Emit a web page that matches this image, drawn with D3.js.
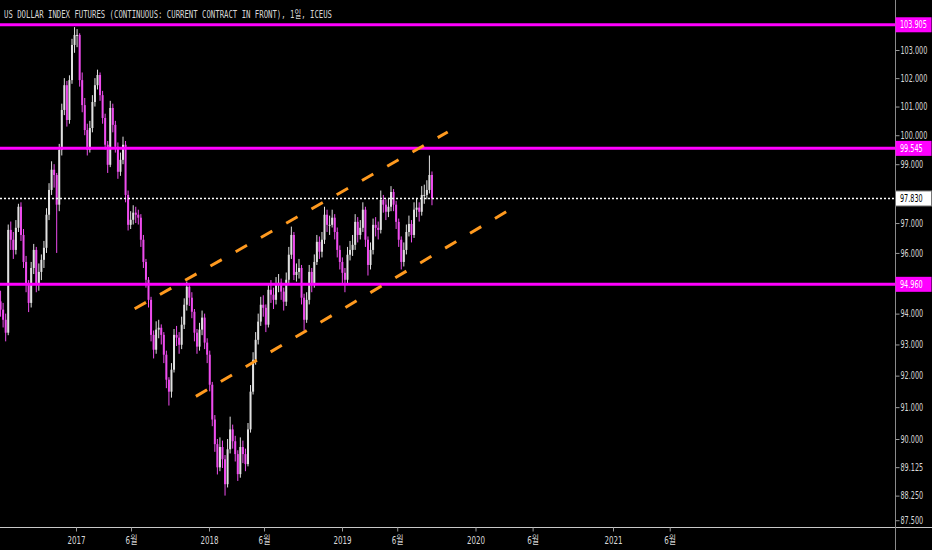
<!DOCTYPE html>
<html>
<head>
<meta charset="utf-8">
<script src="https://cdn.jsdelivr.net/npm/d3@7"></script>
<style>
  html, body { margin: 0; padding: 0; background: #000; }
  svg { display: block; }
  .axis text { font-family: "DejaVu Sans Condensed", "Noto Sans CJK KR", sans-serif; font-size: 10px; fill: #d8d8d8; }
  .x-axis text { font-size: 11px; }
  .axis line { stroke: #9a9a9a; }
</style>
</head>
<body>
<svg id="chart"></svg>
<script>
// Weekly bars, first week starts Monday 2016-06-06
const firstWeek = new Date(2016, 5, 6);
const firstOpen = 94.40;

const closes = [
  94.13, 93.80, 93.38, 96.77, 96.44, 96.10, 96.84, 97.55, 96.60, 95.70,
  94.94, 94.35, 95.50, 96.10, 94.94, 95.37, 95.77, 96.17, 97.28, 98.12,
  98.81, 98.63, 97.62, 99.49, 100.88, 101.75, 100.53, 101.93, 103.18, 103.54,
  103.54, 101.93, 101.05, 100.18, 99.49, 100.25, 101.16, 101.75, 102.11, 101.40,
  100.60, 99.67, 98.98, 100.95, 100.36, 99.60, 98.74, 99.15, 99.67, 97.95,
  96.94, 97.11, 97.35, 97.28, 97.18, 96.44, 95.70, 95.11, 94.45, 93.31,
  92.83, 93.48, 93.54, 93.31, 92.67, 91.87, 91.49, 92.19, 93.31, 93.22,
  92.99, 93.64, 94.29, 94.88, 94.52, 94.06, 93.38, 92.93, 93.48, 93.87,
  93.06, 92.67, 91.71, 90.61, 89.84, 89.12, 89.75, 89.37, 88.60, 89.68,
  90.30, 89.93, 89.53, 88.91, 89.75, 89.53, 89.22, 90.30, 91.49, 92.51,
  93.15, 93.74, 94.29, 94.19, 93.64, 94.78, 94.62, 94.45, 94.94, 95.01,
  94.72, 94.39, 95.11, 95.94, 96.60, 95.27, 95.37, 95.50, 94.52, 93.80,
  94.45, 95.37, 94.94, 95.70, 96.37, 96.04, 96.44, 97.28, 96.94, 96.94,
  97.18, 96.70, 96.10, 95.70, 95.34, 95.11, 95.94, 96.10, 96.27, 97.04,
  96.60, 96.84, 97.45, 96.44, 95.60, 96.10, 96.94, 96.84, 96.77, 97.78,
  97.62, 97.38, 97.55, 98.05, 97.62, 97.04, 96.44, 95.70, 96.10, 96.70,
  96.97, 96.60, 97.45, 97.52, 97.38, 97.95, 97.95, 98.12, 98.63, 97.83
];

const highs = [
  94.75, 94.35, 94.00, 96.95, 97.05, 96.70, 97.10, 97.65, 97.70, 96.80,
  95.90, 95.10, 95.70, 96.30, 96.20, 95.65, 95.95, 96.40, 97.50, 98.35,
  99.10, 99.00, 98.70, 99.70, 101.10, 102.00, 101.90, 102.10, 103.40, 103.82,
  103.75, 103.60, 102.20, 101.30, 100.40, 100.50, 101.40, 102.00, 102.30, 102.20,
  101.55, 100.75, 99.80, 101.20, 101.10, 100.50, 99.75, 99.40, 99.95, 99.80,
  98.10, 97.40, 97.60, 97.55, 97.45, 97.30, 96.60, 95.80, 95.20, 94.55,
  93.45, 93.75, 93.80, 93.65, 93.40, 92.80, 91.95, 92.40, 93.50, 93.60,
  93.40, 93.90, 94.50, 95.05, 94.95, 94.70, 94.15, 93.50, 93.70, 94.10,
  94.00, 93.20, 92.80, 91.80, 90.75, 90.00, 90.05, 89.95, 89.50, 90.00,
  90.70, 90.45, 90.10, 89.65, 90.05, 89.95, 89.70, 90.50, 91.70, 92.75,
  93.40, 94.00, 94.55, 94.60, 94.30, 95.00, 95.10, 94.85, 95.20, 95.30,
  95.15, 94.85, 95.35, 96.20, 96.88, 96.70, 95.65, 95.80, 95.60, 94.65,
  94.70, 95.60, 95.50, 95.95, 96.60, 96.55, 96.70, 97.55, 97.45, 97.25,
  97.45, 97.30, 96.85, 96.25, 95.85, 95.50, 96.20, 96.40, 96.60, 97.30,
  97.20, 97.10, 97.70, 97.55, 96.55, 96.35, 97.15, 97.20, 97.05, 98.10,
  97.95, 97.80, 97.85, 98.25, 98.15, 97.75, 97.15, 96.55, 96.35, 96.95,
  97.25, 97.10, 97.70, 97.85, 97.70, 98.25, 98.30, 98.45, 99.30, 98.75
];

const lows = [
  93.90, 93.55, 93.10, 93.30, 96.10, 95.80, 95.95, 96.70, 96.40, 95.50,
  94.70, 94.05, 94.20, 95.30, 94.70, 94.75, 95.10, 95.50, 96.00, 97.10,
  97.95, 98.20, 96.00, 97.40, 99.30, 100.70, 100.30, 100.40, 101.80, 102.90,
  103.10, 101.70, 100.80, 100.00, 99.30, 99.40, 100.10, 101.00, 101.60, 101.20,
  100.40, 99.50, 98.70, 98.90, 100.10, 99.40, 98.50, 98.60, 99.00, 97.70,
  96.75, 96.80, 96.95, 97.00, 96.95, 96.20, 95.50, 94.85, 94.20, 93.10,
  92.55, 92.70, 93.20, 93.00, 92.40, 91.60, 91.05, 91.30, 92.10, 92.95,
  92.70, 92.85, 93.50, 94.10, 94.25, 93.85, 93.10, 92.70, 92.80, 93.30,
  92.85, 92.40, 91.50, 90.40, 89.60, 88.90, 89.00, 89.10, 88.25, 88.50,
  89.55, 89.70, 89.30, 88.70, 88.80, 89.25, 89.00, 89.15, 90.20, 91.40,
  92.35, 93.00, 93.60, 93.90, 93.40, 93.55, 94.35, 94.15, 94.30, 94.70,
  94.45, 94.10, 94.25, 95.00, 95.80, 95.10, 95.05, 95.15, 94.30, 93.45,
  93.70, 94.30, 94.70, 94.85, 95.60, 95.80, 95.85, 96.30, 96.70, 96.60,
  96.85, 96.45, 95.85, 95.45, 94.95, 94.70, 95.00, 95.75, 95.90, 96.10,
  96.35, 96.45, 96.70, 96.20, 95.25, 95.45, 95.95, 96.55, 96.45, 96.65,
  97.35, 97.10, 97.20, 97.40, 97.40, 96.80, 96.20, 95.45, 95.55, 95.95,
  96.55, 96.35, 96.50, 97.20, 97.05, 97.25, 97.65, 97.80, 98.00, 97.60
];

// horizontal levels and last price
const levelPrices = [103.905, 99.545, 94.960];
const lastPrice = 97.830;

// channel lines: [date, price] anchors
const channelUpper = [["2017-06-11", 94.16], ["2019-10-17", 100.11]];
const channelLower = [["2017-11-26", 91.34], ["2020-04-01", 97.45]];

// axis ticks
const yTicks = [87.5, 88.25, 89.125, 90, 91, 92, 93, 94, 96, 97, 99, 100, 101, 102, 103];
const xTickDates = ["2017-01-01", "2017-06-01", "2018-01-01", "2018-06-01", "2019-01-01",
  "2019-06-01", "2020-01-01", "2020-06-01", "2021-01-01", "2021-06-01"];

const titleText = "US DOLLAR INDEX FUTURES (CONTINUOUS: CURRENT CONTRACT IN FRONT), 1일, ICEUS";

const W = 932, H = 550;
const axisX = 895, axisY = 527;
const squeeze = 0.72; // condensed look for axis labels
const parse = d3.timeParse("%Y-%m-%d");
const priceFmt = d3.format(".3f");

const bars = closes.map((c, i) => ({
  date: d3.timeDay.offset(d3.timeWeek.offset(firstWeek, i), 2),
  open: i === 0 ? firstOpen : closes[i - 1],
  high: highs[i],
  low: lows[i],
  close: c
}));

const svg = d3.select("#chart").attr("width", W).attr("height", H);

svg.append("rect").attr("width", W).attr("height", H).attr("fill", "#000");

// bar-index style time axis: each year gets its own piece
const x = d3.scaleTime()
  .domain([new Date(2017, 0, 1), new Date(2018, 0, 1), new Date(2019, 0, 1), new Date(2020, 0, 1), new Date(2021, 0, 1)])
  .range([76, 209, 342, 475.5, 613]);

const y = d3.scaleLog()
  .domain([90, 103])
  .range([439, 50]);

svg.append("defs").append("clipPath").attr("id", "plot-clip")
  .append("rect").attr("x", 0).attr("y", 0).attr("width", axisX).attr("height", axisY);

const plot = svg.append("g").attr("clip-path", "url(#plot-clip)");

// candles
const upColor = "#e0e0e0", downColor = "#ee4cee";
const candle = plot.append("g").selectAll("g")
  .data(bars)
  .join("g")
  .attr("stroke", d => d.close >= d.open ? upColor : downColor)
  .attr("fill", d => d.close >= d.open ? upColor : downColor);

candle.append("line")
  .attr("x1", d => x(d.date)).attr("x2", d => x(d.date))
  .attr("y1", d => y(d.high)).attr("y2", d => y(d.low))
  .attr("stroke-width", 1);

candle.append("rect")
  .attr("stroke", "none")
  .attr("x", d => x(d.date) - 1)
  .attr("width", 2)
  .attr("y", d => y(Math.max(d.open, d.close)))
  .attr("height", d => Math.max(1, y(Math.min(d.open, d.close)) - y(Math.max(d.open, d.close))));

// horizontal levels
plot.selectAll(".level")
  .data(levelPrices)
  .join("line")
  .attr("class", "level")
  .attr("x1", 0).attr("x2", axisX)
  .attr("y1", d => y(d)).attr("y2", d => y(d))
  .attr("stroke", "#ff00ff")
  .attr("stroke-width", 3);

// last price dotted line
plot.append("line")
  .attr("x1", 0).attr("x2", axisX)
  .attr("y1", y(lastPrice)).attr("y2", y(lastPrice))
  .attr("stroke", "#ffffff")
  .attr("stroke-width", 1.5)
  .attr("stroke-dasharray", "2 2");

// channel
const channelLine = d3.line()
  .x(d => x(parse(d[0])))
  .y(d => y(d[1]));

plot.selectAll(".channel")
  .data([channelUpper, channelLower])
  .join("path")
  .attr("class", "channel")
  .attr("d", channelLine)
  .attr("fill", "none")
  .attr("stroke", "#ff9a1f")
  .attr("stroke-width", 3)
  .attr("stroke-dasharray", "13 16");

// axes lines
svg.append("line")
  .attr("x1", 0).attr("x2", W)
  .attr("y1", axisY + 0.5).attr("y2", axisY + 0.5)
  .attr("stroke", "#c8c8c8");

svg.append("line")
  .attr("x1", axisX + 0.5).attr("x2", axisX + 0.5)
  .attr("y1", 0).attr("y2", H)
  .attr("stroke", "#8a8a8a");

// y axis
const yAxis = d3.axisRight(y)
  .tickValues(yTicks)
  .tickSize(4)
  .tickPadding(1)
  .tickFormat(priceFmt);

svg.append("g")
  .attr("class", "axis y-axis")
  .attr("transform", `translate(${axisX + 0.5},0)`)
  .call(yAxis)
  .call(g => g.select(".domain").remove())
  .call(g => g.selectAll("text")
    .attr("x", 5 / squeeze)
    .attr("transform", `scale(${squeeze},1)`));

// x axis
const xAxis = d3.axisBottom(x)
  .tickValues(xTickDates.map(parse))
  .tickSize(4)
  .tickPadding(5)
  .tickFormat(d => d.getMonth() === 0 ? d.getFullYear() : "6월");

svg.append("g")
  .attr("class", "axis x-axis")
  .attr("transform", `translate(0,${axisY + 0.5})`)
  .call(xAxis)
  .call(g => g.select(".domain").remove())
  .call(g => g.selectAll("line").attr("stroke", "#c8c8c8"))
  .call(g => g.selectAll("text").attr("transform", `scale(${squeeze},1)`));

// price labels on the right axis
const labels = levelPrices.map(p => ({ p, fill: "#ff00ff", text: "#ffffff" }))
  .concat([{ p: lastPrice, fill: "#ffffff", text: "#000000" }]);

const lab = svg.append("g").selectAll("g")
  .data(labels)
  .join("g")
  .attr("transform", d => `translate(${axisX},${y(d.p)})`);

lab.append("rect")
  .attr("x", 0.5).attr("y", -7.5)
  .attr("width", W - axisX - 1).attr("height", 15)
  .attr("fill", d => d.fill)
  .attr("stroke", d => d.fill === "#ffffff" ? "#777" : "none");

lab.append("text")
  .attr("x", 5 / squeeze)
  .attr("dy", "0.35em")
  .attr("transform", `scale(${squeeze},1)`)
  .attr("fill", d => d.text)
  .style("font-family", "\"DejaVu Sans Condensed\", sans-serif")
  .style("font-size", "10px")
  .text(d => priceFmt(d.p));

// title
svg.append("text")
  .attr("x", 4)
  .attr("y", 18)
  .attr("fill", "#d6d6d6")
  .attr("textLength", 328)
  .attr("lengthAdjust", "spacingAndGlyphs")
  .style("font-family", "\"DejaVu Sans Mono\", \"Noto Sans CJK KR\", monospace")
  .style("font-size", "10px")
  .text(titleText);
</script>
</body>
</html>
